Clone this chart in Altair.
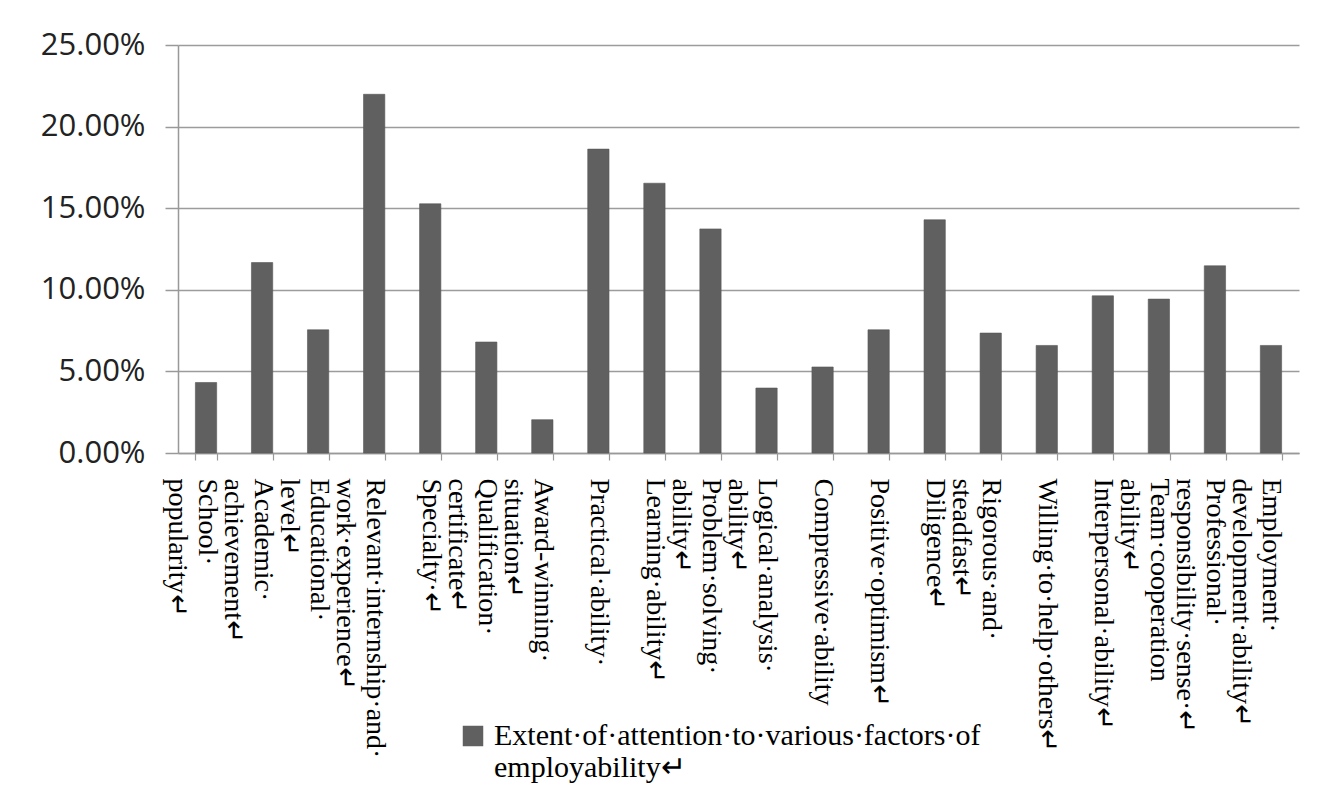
import altair as alt
import pandas as pd

categories = [
    "School·|popularity↵",
    "Academic·|achievement↵",
    "Educational·|level↵",
    "Relevant·internship·and·|work·experience↵",
    "Specialty·↵",
    "Qualification·|certificate↵",
    "Award-winning·|situation↵",
    "Practical·ability·",
    "Learning·ability↵",
    "Problem·solving·|ability↵",
    "Logical·analysis·|ability↵",
    "Compressive·ability",
    "Positive·optimism↵",
    "Diligence↵",
    "Rigorous·and·|steadfast↵",
    "Willing·to·help·others↵",
    "Interpersonal·ability↵",
    "Team·cooperation|ability↵",
    "Professional·|responsibility·sense·↵",
    "Employment·|development·ability↵",
]
values_pct = [4.32, 11.67, 7.55, 21.98, 15.27, 6.80, 2.04, 18.62, 16.53, 13.73,
              3.98, 5.27, 7.55, 14.29, 7.35, 6.59, 9.63, 9.43, 11.47, 6.59]
series_name = "Extent·of·attention·to·various·factors·of|employability↵"
y_ticks = [0, 0.05, 0.10, 0.15, 0.20, 0.25]

df = pd.DataFrame({
    "factor": categories,
    "share": [v / 100 for v in values_pct],
    "series": series_name,
})

chart = alt.Chart(df).mark_bar(stroke="#585858", strokeWidth=0.6).encode(
    x=alt.X(
        "factor:N", sort=None, title=None,
        scale=alt.Scale(paddingInner=0.62, paddingOuter=0.31),
        axis=alt.Axis(
            labelAngle=90, labelAlign="left", labelBaseline="middle",
            labelExpr="split(datum.label, '|')",
            labelFont="Liberation Serif", labelFontSize=28, labelLineHeight=30,
            labelColor="#000000", labelLimit=500, labelOverlap=False,
            labelPadding=18, tickBand="extent", tickSize=7, tickWidth=1.2,
            tickColor="#999999", domainColor="#999999", domainWidth=1.5, grid=False,
        ),
    ),
    y=alt.Y(
        "share:Q", title=None,
        scale=alt.Scale(domain=[0, 0.25], nice=False),
        axis=alt.Axis(
            format=".2%", values=y_ticks,
            labelFont="Open Sans", labelFontSize=31, labelColor="#222222",
            labelPadding=20, tickSize=13, tickColor="#999999", tickWidth=1.5,
            domainColor="#999999", domainWidth=1.5,
            gridColor="#9c9c9c", gridWidth=1.5,
        ),
    ),
    color=alt.Color(
        "series:N", title=None,
        scale=alt.Scale(range=["#606060"]),
        legend=alt.Legend(
            orient="none", legendX=280, legendY=676,
            symbolType="square", symbolSize=420, symbolStrokeWidth=0,
            labelExpr="split(datum.label, '|')",
            labelFont="Liberation Serif", labelFontSize=30,
            labelColor="#000000", labelLimit=800, labelOffset=6,
        ),
    ),
).properties(
    width=1121, height=408,
    autosize=alt.AutoSizeParams(type="none"),
    padding={"left": 170, "top": 37, "right": 30, "bottom": 336},
).configure_view(strokeWidth=0)

chart.save("out.html", embed_options={"renderer": "svg", "actions": False})
